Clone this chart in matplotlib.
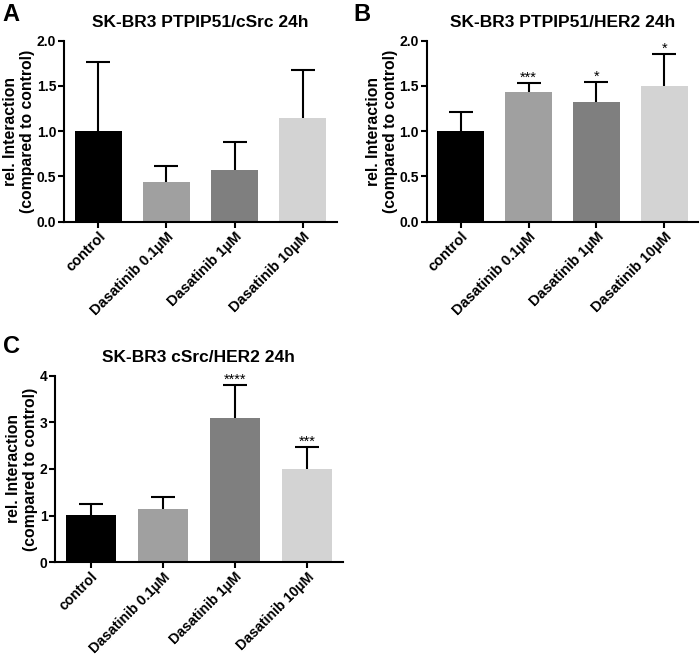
import matplotlib
matplotlib.use('Agg')
from matplotlib import pyplot as plt

plt.rcParams['font.family'] = ['Liberation Sans', 'DejaVu Sans']
plt.rcParams['font.weight'] = 'bold'

groups = ['control', 'Dasatinib 0.1µM', 'Dasatinib 1µM', 'Dasatinib 10µM']
colors = ['#000000', '#a0a0a0', '#7f7f7f', '#d3d3d3']

a_mean = [1.0, 0.435, 0.57, 1.15]
a_top = [1.765, 0.61, 0.885, 1.672]
a_stars = ['', '', '', '']

b_mean = [1.0, 1.428, 1.318, 1.498]
b_top = [1.207, 1.528, 1.54, 1.852]
b_stars = ['', '***', '*', '*']

c_mean = [1.01, 1.135, 3.1, 1.99]
c_top = [1.25, 1.39, 3.805, 2.478]
c_stars = ['', '', '****', '***']

fig = plt.figure(figsize=(7, 6.55), dpi=100)


def panel(rect, mean, top, stars, title, ymax, yticks, ytl, star_off, xfs=10.5):
	ax = fig.add_axes(rect)
	x = list(range(len(groups)))
	err = [t - m for t, m in zip(top, mean)]
	ax.bar(x, mean, width=0.69, color=colors, zorder=2)
	_, caps, _ = ax.errorbar(x, mean, yerr=[[0] * len(x), err], fmt='none', ecolor='black',
							 elinewidth=1.5, capsize=8.5, capthick=1.5, zorder=1)
	# only the upper cap, like prism
	caps[0].set_visible(False)
	for xi, t, s in zip(x, top, stars):
		if s:
			ax.text(xi, t + star_off, s, ha='center', va='bottom', fontsize=10.5, fontweight='normal')
	ax.set_xlim(-0.5, 3.5)
	ax.set_ylim(0, ymax)
	ax.set_yticks(yticks)
	ax.set_yticklabels(ytl, fontsize=10, fontweight='bold')
	ax.set_xticks(x)
	ax.set_xticklabels(groups, rotation=45, ha='right', rotation_mode='anchor', fontsize=xfs, fontweight='bold')
	for sp in ['top', 'right']:
		ax.spines[sp].set_visible(False)
	for sp in ['left', 'bottom']:
		ax.spines[sp].set_linewidth(1.5)
	ax.tick_params(width=1.5, length=4, direction='out', pad=1.5)
	ax.set_ylabel('rel. Interaction\n(compared to control)', fontsize=11.3, fontweight='bold', labelpad=1)
	ax.set_title(title, fontsize=12.5, fontweight='bold', pad=10)
	return ax


axa = panel([0.0914, 0.6615, 0.39, 0.2764], a_mean, a_top, a_stars,
			'SK-BR3 PTPIP51/cSrc 24h', 2.0, [0, 0.5, 1.0, 1.5, 2.0],
			['0.0', '0.5', '1.0', '1.5', '2.0'], 0.0)
axb = panel([0.6096, 0.6615, 0.388, 0.2764], b_mean, b_top, b_stars,
			'SK-BR3 PTPIP51/HER2 24h', 2.0, [0, 0.5, 1.0, 1.5, 2.0],
			['0.0', '0.5', '1.0', '1.5', '2.0'], -0.02)
axc = panel([0.0786, 0.1415, 0.411, 0.285], c_mean, c_top, c_stars,
			'SK-BR3 cSrc/HER2 24h', 4, [0, 1, 2, 3, 4],
			['0', '1', '2', '3', '4'], -0.04, xfs=10.2)

fig.text(0.004, 0.995, 'A', fontsize=17, fontweight='bold', va='top')
fig.text(0.505, 0.995, 'B', fontsize=17, fontweight='bold', va='top')
fig.text(0.004, 0.488, 'C', fontsize=17, fontweight='bold', va='top')

plt.savefig('out.png', dpi=100)
